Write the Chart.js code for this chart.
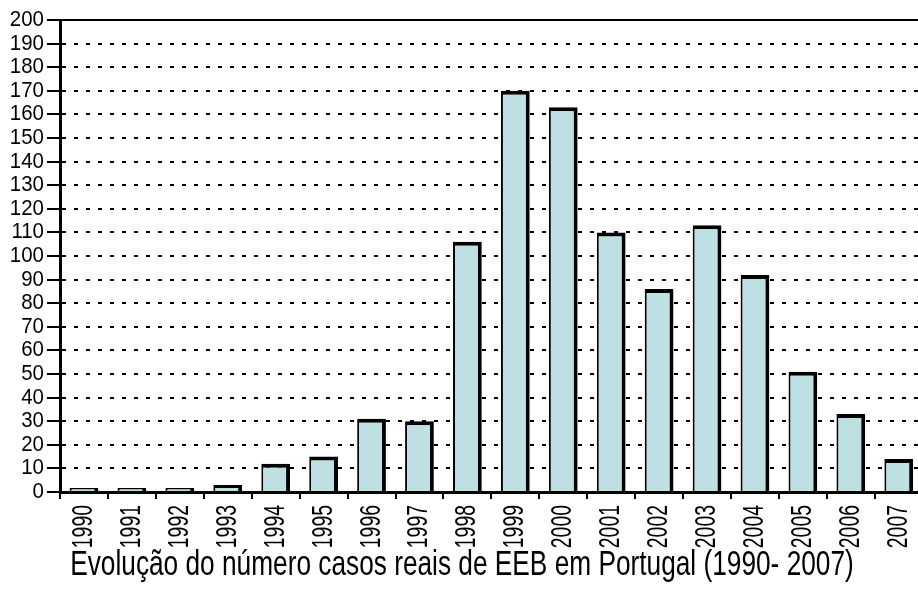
<!DOCTYPE html>
<html>
<head>
<meta charset="utf-8">
<script src="https://cdn.jsdelivr.net/npm/chart.js@4.4.0/dist/chart.umd.min.js"></script>
<style>
html, body { margin: 0; padding: 0; background: #fff; overflow: hidden; }
</style>
</head>
<body>
<canvas id="myChart" width="940" height="591"></canvas>
<script>
// data
const years = ["1990", "1991", "1992", "1993", "1994", "1995", "1996", "1997", "1998",
               "1999", "2000", "2001", "2002", "2003", "2004", "2005", "2006", "2007"];
const cases = [1, 1, 1, 3, 12, 15, 31, 30, 106, 170, 163, 110, 86, 113, 92, 51, 33, 14];
const yMin = 0;
const yMax = 200;
const yStep = 10;
const chartTitle = "Evolução do número casos reais de EEB em Portugal (1990- 2007)";

Chart.defaults.font.family = "'Liberation Sans', Arial, sans-serif";
Chart.defaults.color = '#000';

const ctx = document.getElementById('myChart');

// the original uses a narrow font, none is installed -> squeeze the text horizontally
// (factor picked by font size: y ticks 22px, x ticks 29px, title 35px)
const squeeze = { 22: 0.93, 29: 0.67, 35: 0.75 };
const c2d = ctx.getContext('2d');
const origFill = c2d.fillText;
c2d.fillText = function(text, x, y, maxWidth) {
    const m = /(\d+)px/.exec(this.font);
    const k = m && squeeze[m[1]] ? squeeze[m[1]] : 1;
    this.save();
    this.translate(x, y);
    this.scale(k, 1);
    if (maxWidth !== undefined) origFill.call(this, text, 0, 0, maxWidth / k);
    else origFill.call(this, text, 0, 0);
    this.restore();
};

new Chart(ctx, {
    type: 'bar',
    data: {
        labels: years,
        datasets: [{
            data: cases,
            backgroundColor: '#bde0e2',
            borderColor: '#000',
            borderWidth: { top: 4, right: 4, left: 2, bottom: 0 },
            borderSkipped: 'bottom',
            minBarLength: 4,
            barPercentage: 0.6,
            categoryPercentage: 1
        }]
    },
    options: {
        responsive: false,
        animation: false,
        layout: {
            padding: { top: 20, right: 16, left: 0, bottom: 0 }
        },
        scales: {
            x: {
                afterFit: function(scale) { scale.height = 56; },
                grid: {
                    drawOnChartArea: false,
                    color: '#000',
                    lineWidth: 2,
                    tickLength: 7
                },
                border: { color: '#000', width: 3 },
                ticks: {
                    minRotation: 90,
                    maxRotation: 90,
                    padding: 6,
                    font: { size: 29 }
                }
            },
            y: {
                min: yMin,
                max: yMax,
                afterFit: function(scale) { scale.width = 60; },
                grid: {
                    color: function(c) { return c.tick && c.tick.value === 0 ? 'rgba(0,0,0,0)' : '#000'; },
                    lineWidth: 2,
                    tickLength: 13,
                    tickColor: '#000',
                    tickWidth: 2,
                    tickBorderDash: []
                },
                border: {
                    color: '#000',
                    width: 3,
                    dash: function(c) { return c.tick && c.tick.value === yMax ? [] : [4, 8]; }
                },
                ticks: {
                    stepSize: yStep,
                    autoSkip: false,
                    padding: 3,
                    font: { size: 22 }
                }
            }
        },
        plugins: {
            legend: { display: false },
            tooltip: { enabled: false },
            title: {
                display: true,
                position: 'bottom',
                text: chartTitle,
                color: '#000',
                font: { size: 35, weight: 'normal', lineHeight: 1 },
                padding: { top: 0, bottom: 8 }
            }
        }
    }
});
</script>
</body>
</html>
